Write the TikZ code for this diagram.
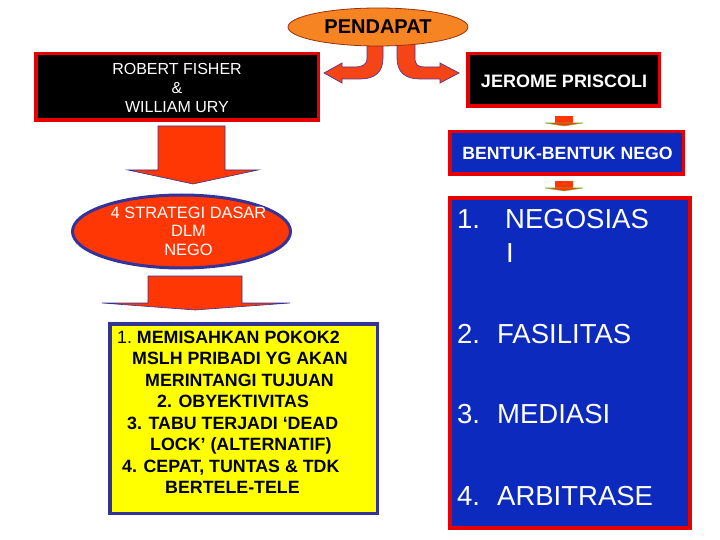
\documentclass[tikz,border=0pt]{standalone}
\usepackage{fontspec}
\setmainfont{Liberation Sans}
\usetikzlibrary{shapes.geometric}
\definecolor{ellorange}{RGB}{247,132,34}
\definecolor{ellline}{RGB}{150,50,20}
\definecolor{arrred}{RGB}{245,68,22}
\definecolor{arrline}{RGB}{90,50,140}
\definecolor{bigred}{RGB}{255,55,5}
\definecolor{navy}{RGB}{51,51,153}
\definecolor{boxblue}{RGB}{12,42,190}
\definecolor{boxred}{RGB}{230,0,0}
\definecolor{ylw}{RGB}{255,255,0}
\definecolor{grn}{RGB}{120,190,60}
\begin{document}
\begin{tikzpicture}[x=1pt,y=-1pt,
  blackbox/.style={rectangle,fill=black,draw=boxred,line width=3.5pt,inner sep=0pt},
  bluebox/.style={rectangle,fill=boxblue,draw=boxred,line width=3.5pt,inner sep=0pt},
  wtxt/.style={text=white,inner sep=0pt},
  ytxt/.style={text=black,inner sep=0pt,anchor=base west,font=\fontsize{17.8}{21.5}\selectfont\bfseries},
  ltxt/.style={text=white,inner sep=0pt,anchor=base west,font=\fontsize{27.5}{33}\selectfont},
  bigarrow/.style={fill=bigred,draw=navy,line width=0.6pt,line join=miter},
  curvearrow/.style={fill=arrred,draw=arrline,line width=0.7pt},
  smallarrow/.style={fill=bigred,draw=none}]
\useasboundingbox[fill=white] (0,0) rectangle (720,540);

% double curved arrow (behind the ellipse)
\draw[curvearrow] (367,40) -- (367,58) .. controls (367,65) and (362,67) .. (355,67)
  -- (342,67) -- (342,63) -- (324,73) -- (342,83) -- (342,79) -- (360,79)
  .. controls (375,79) and (383,72) .. (383,58) -- (383,40) -- cycle;
\draw[curvearrow] (397,40) -- (397,58) .. controls (397,72) and (405,79) .. (420,79)
  -- (440,79) -- (440,83) -- (459,73) -- (440,63) -- (440,67) -- (425,67)
  .. controls (418,67) and (415,65) .. (415,58) -- (415,40) -- cycle;

% PENDAPAT
\node[ellipse,fill=ellorange,draw=ellline,line width=0.8pt,minimum width=180pt,minimum height=38pt,inner sep=0pt,
  font=\fontsize{20}{23}\selectfont\bfseries] (pend) at (378,27) {PENDAPAT};

% top boxes
\node[blackbox,minimum width=282.5pt,minimum height=66.5pt] (rf) at (177,87) {};
\node[wtxt,align=center,anchor=north,font=\fontsize{16}{19}\selectfont] (rft) at (177,63) {ROBERT FISHER\\\&\\WILLIAM URY};
\node[blackbox,minimum width=191.5pt,minimum height=52.5pt] (jp) at (563.5,80) {};
\node[wtxt,font=\fontsize{18}{21}\selectfont\bfseries] (jpt) at (564,81) {JEROME PRISCOLI};

% right column
\node[bluebox,minimum width=233.5pt,minimum height=42.5pt] (bn) at (566.5,153) {};
\node[wtxt,font=\fontsize{17.7}{21}\selectfont\bfseries] (bnt) at (567.5,153.5) {BENTUK-BENTUK NEGO};
\node[bluebox,minimum width=240pt,minimum height=330pt] (lst) at (570,363) {};
\node[ltxt] (n1) at (457,229) {1.};
\node[ltxt] (i1) at (505,229) {NEGOSIAS};
\node[ltxt] (i1b) at (506,262) {I};
\node[ltxt] (n2) at (457,343) {2.};
\node[ltxt] (i2) at (497,343) {FASILITAS};
\node[ltxt] (n3) at (457,423) {3.};
\node[ltxt] (i3) at (497,423) {MEDIASI};
\node[ltxt] (n4) at (457,505) {4.};
\node[ltxt] (i4) at (497,505) {ARBITRASE};

% small connectors on the right
\fill[smallarrow] (555,116) rectangle (573,123);
\draw[fill=bigred,draw=grn,line width=0.5pt] (545,123) -- (583,123) -- (564,126) -- cycle;
\fill[smallarrow] (555,181) rectangle (573,188);
\draw[fill=bigred,draw=grn,line width=0.5pt] (545,188) -- (583,188) -- (564,191) -- cycle;

% left column arrows
\draw[bigarrow] (158,126) -- (225,126) -- (225,170) -- (258,170) -- (193,184) -- (128,170) -- (158,170) -- cycle;
\node[ellipse,fill=bigred,draw=navy,line width=3pt,minimum width=218pt,minimum height=73pt,inner sep=0pt] (st) at (181.5,231.5) {};
\node[wtxt,align=center,anchor=north,font=\fontsize{16.4}{18.5}\selectfont] (stt) at (188.5,206.5) {4 STRATEGI DASAR\\DLM\\NEGO};
\draw[bigarrow] (148,276) -- (242,276) -- (242,303) -- (290,303) -- (195,310) -- (102,303) -- (148,303) -- cycle;

% yellow box
\node[rectangle,fill=ylw,draw=navy,line width=3.5pt,minimum width=267.5pt,minimum height=189.5pt,inner sep=0pt] (yb) at (243.5,418.5) {};
\node[ytxt] (y1) at (117,343) {\mdseries 1.\ \bfseries MEMISAHKAN POKOK2};
\node[ytxt] (y2) at (132,364.5) {MSLH PRIBADI YG AKAN};
\node[ytxt] (y3) at (145,386) {MERINTANGI TUJUAN};
\node[ytxt] (y4) at (157,407.5) {2. OBYEKTIVITAS};
\node[ytxt] (y5) at (127,429) {3. TABU TERJADI ‘DEAD};
\node[ytxt] (y6) at (150,450.5) {LOCK’ (ALTERNATIF)};
\node[ytxt] (y7) at (122,472) {4. CEPAT, TUNTAS \& TDK};
\node[ytxt] (y8) at (165,493.5) {BERTELE-TELE};
\end{tikzpicture}
\end{document}
